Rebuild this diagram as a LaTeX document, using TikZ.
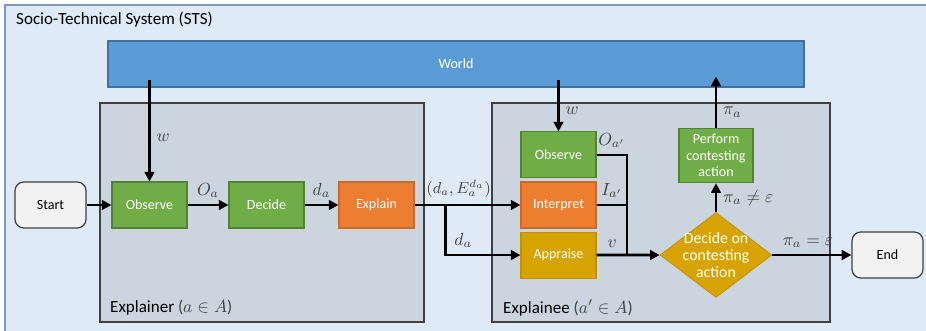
\documentclass[tikz,border=0pt]{standalone}
\usepackage{amsmath}
\usepackage{amssymb}
\usepackage{fontspec}
\setmainfont{Carlito}
\usepackage{tikz}
\usetikzlibrary{positioning, arrows.meta, shapes.geometric, calc}

\definecolor{stsfill}{HTML}{DEEAF6}
\definecolor{stsdraw}{HTML}{7F97B8}
\definecolor{rolefill}{HTML}{CAD5DF}
\definecolor{worldfill}{HTML}{5B9BD5}
\definecolor{worlddraw}{HTML}{41719C}
\definecolor{actgreen}{HTML}{70AD47}
\definecolor{actgreendraw}{HTML}{548235}
\definecolor{actorange}{HTML}{ED7D31}
\definecolor{actorangedraw}{HTML}{C96A2A}
\definecolor{actgold}{HTML}{D6A300}
\definecolor{actgolddraw}{HTML}{BF9000}
\definecolor{termfill}{HTML}{F2F2F2}

\begin{document}
\begin{tikzpicture}[
    x=0.02cm, y=-0.02cm,
    region/.style={draw=#1, line width=0.7pt},
    activity/.style={draw=#1, line width=0.6pt, rectangle, minimum width=1.5cm, minimum height=0.92cm, align=center, text=white, font=\fontsize{8}{9.4}\selectfont},
    terminal/.style={draw=black!75, fill=termfill, line width=0.7pt, rectangle, rounded corners=5pt, minimum width=1.42cm, minimum height=0.92cm, font=\fontsize{8}{9.4}\selectfont},
    choice/.style={draw=actgolddraw, fill=actgold, diamond, aspect=1.32, inner sep=-2.5pt, minimum width=2.24cm, minimum height=1.7cm, align=center, text=white, font=\fontsize{9}{9.6}\selectfont},
    lbl/.style={font=\fontsize{10}{12}\selectfont, text=black!75},
    arrow/.style={line width=1.5pt, -{Triangle[length=5.5pt, width=5.5pt]}},
    wire/.style={line width=1.5pt}
]
\useasboundingbox (0,0) rectangle (926,331);

% regions
\draw[region=stsdraw, fill=stsfill] (5,5) rectangle (940,345);
\node[anchor=west, font=\fontsize{9.7}{12}\selectfont] (ststitle) at (10,20) {Socio-Technical System (STS)};
\draw[region=black!75, fill=rolefill] (100,103) rectangle (424,322);
\draw[region=black!75, fill=rolefill] (492,103) rectangle (830,322);
\node[anchor=west, font=\fontsize{9.7}{12}\selectfont] (explainerlbl) at (104,308) {Explainer \textcolor{black!75}{($a \in A$)}};
\node[anchor=west, font=\fontsize{9.7}{12}\selectfont] (explaineelbl) at (497,308) {Explainee \textcolor{black!75}{($a' \in A$)}};

\node[draw=worlddraw, fill=worldfill, line width=0.7pt, minimum width=13.92cm, minimum height=0.92cm, text=white, font=\fontsize{8}{9.4}\selectfont] (world) at (456,64) {World};

% explainer
\node[terminal] (start) at (50.5,205) {Start};
\node[activity=actgreendraw, fill=actgreen] (observe1) at (149.5,205) {Observe};
\node[activity=actgreendraw, fill=actgreen] (decide) at (266.5,205) {Decide};
\node[activity=actorangedraw, fill=actorange] (explain) at (376.5,205) {Explain};

% explainee
\node[activity=actorangedraw, fill=actorange] (interpret) at (558.5,205) {Interpret};
\node[activity=actgreendraw, fill=actgreen, above=0.06cm of interpret] (observe2) {Observe};
\node[activity=actgolddraw, fill=actgold, below=0.06cm of interpret] (appraise) {Appraise};
\node[choice] (contest) at (716,255) {Decide on\\contesting\\action};
\node[activity=actgreendraw, fill=actgreen, minimum width=1.48cm, minimum height=0.94cm] (perform) at (716,155.5) {Perform\\contesting\\action};
\node[terminal] (end) at (887.5,255) {End};

\coordinate (fork) at ($(explain.east)!0.29!(interpret.west)$);
\coordinate (merge) at (627,255);

\draw[arrow] ([yshift=0.16cm]world.south -| observe1.north) -- node[lbl, pos=0.57, right] {$w$} (observe1.north);
\draw[arrow] (start) -- (observe1);
\draw[arrow] (observe1) -- node[lbl, above] {$O_a$} (decide);
\draw[arrow] (decide) -- node[lbl, above] {$d_a$} (explain);
\draw[arrow] (explain) -- node[lbl, pos=0.1, above right, inner xsep=0pt, font=\fontsize{9}{11}\selectfont] {$(d_a, E_a^{d_a})$} (interpret);
\draw[arrow] (fork) |- node[lbl, pos=0.62, above] {$d_a$} (appraise.west);

\draw[arrow] ([yshift=0.16cm]world.south -| observe2.north) -- node[lbl, pos=0.6, right] {$w$} (observe2.north);
\draw[wire] (observe2.east) -| node[lbl, pos=0.25, above] {$O_{a'}$} (merge);
\draw[wire] (interpret.east) -- node[lbl, above] {$I_{a'}$} (interpret.east -| merge);
\draw[arrow] (appraise.east) -- node[lbl, pos=0.25, above] {$v$} (contest.west);
\draw[arrow] (contest.north) -- node[lbl, right] {$\pi_a \neq \varepsilon$} (perform.south);
\draw[arrow] (perform.north) -- node[lbl, pos=0.3, right] {$\pi_a$} ([yshift=0.22cm]world.south -| perform.north);
\draw[arrow] (contest.east) -- node[lbl, pos=0.45, above] {$\pi_a = \varepsilon$} (end.west);
\end{tikzpicture}
\end{document}
